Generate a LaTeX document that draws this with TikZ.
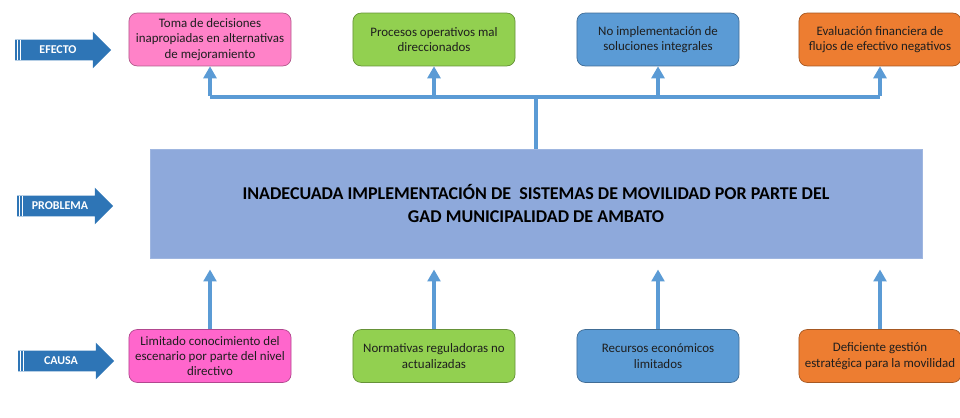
\documentclass[tikz,border=0pt]{standalone}
\usepackage{fontspec}
\setmainfont{Carlito}
\usepackage{tikz}
\usetikzlibrary{positioning,arrows.meta,calc,shapes.arrows}
\definecolor{efpink}{RGB}{255,130,200}
\definecolor{capink}{RGB}{255,102,204}
\definecolor{tgreen}{RGB}{146,208,80}
\definecolor{tblue}{RGB}{91,155,213}
\definecolor{torange}{RGB}{237,125,49}
\definecolor{probfill}{RGB}{142,169,219}
\definecolor{signblue}{RGB}{46,117,182}
\definecolor{linkblue}{RGB}{91,155,213}
\definecolor{boxtext}{RGB}{30,30,30}
\tikzset{
  cell/.style={rounded corners=0.2cm, line width=0.5pt, minimum width=4.05cm,
               minimum height=1.32cm, inner sep=2pt, align=center,
               font=\fontsize{9.2}{10.9}\selectfont, text=boxtext},
  probbox/.style={fill=probfill, draw=probfill!85!white, line width=0.5pt,
                  minimum width=19.3cm, minimum height=2.72cm, align=center,
                  font=\fontsize{12.8}{15.8}\selectfont\bfseries, text=black},
  sign/.style={single arrow, fill=signblue, draw=none, minimum height=2.4cm,
               minimum width=0.9cm, single arrow head extend=0.2cm,
               text height=5.6pt, text depth=0pt, inner ysep=4.3pt, inner xsep=0pt,
               font=\fontsize{8.5}{10}\selectfont\bfseries, text=white},
  link/.style={draw=linkblue, line width=2.4pt},
  flow/.style={-{Triangle[length=0.3cm,width=0.32cm]}, draw=linkblue, line width=2.4pt},
}

\begin{document}
\begin{tikzpicture}[x=0.025cm, y=-0.025cm]
% pixel grid of the sheet: x to the right, y downwards
\useasboundingbox (0,0) rectangle (960,418);
\def\ca{210} \def\cb{434} \def\cc{658} \def\cd{880}
\def\rtop{39.5} \def\rbot{356}

% row markers on the left
\node[sign] (efecto) at (58,50) {EFECTO};
\node[sign] (problema) at (60,206) {PROBLEMA};
\node[sign] (causa) at (61,361) {CAUSA};
\foreach \s in {efecto,problema,causa} {
  \draw[white, line width=0.5pt] ([xshift=0.06cm]\s.west) ++(0,-0.26cm) -- ++(0,0.52cm);
  \draw[white, line width=0.5pt] ([xshift=0.15cm]\s.west) ++(0,-0.26cm) -- ++(0,0.52cm);
}

% central problem
\node[probbox] (prob) at (536,203.5)
  {INADECUADA IMPLEMENTACIÓN DE \ SISTEMAS DE MOVILIDAD POR PARTE DEL\\
   GAD MUNICIPALIDAD DE AMBATO};

% effects, top row
\foreach \n/\cx/\c/\t in {efa/\ca/efpink/{Toma de decisiones\\inapropiadas en alternativas\\de mejoramiento},
                          efb/\cb/tgreen/{Procesos operativos mal\\direccionados},
                          efc/\cc/tblue/{No implementación de\\soluciones integrales},
                          efd/\cd/torange/{Evaluación financiera de\\flujos de efectivo negativos}}
  \node[cell, fill=\c, draw=\c!70!black] (\n) at (\cx,\rtop) {\t};

% causes, bottom row
\foreach \n/\cx/\c/\t in {caa/\ca/capink/{Limitado conocimiento del\\escenario por parte del nivel\\directivo},
                          cab/\cb/tgreen/{Normativas reguladoras no\\actualizadas},
                          cac/\cc/tblue/{Recursos económicos\\limitados},
                          cad/\cd/torange/{Deficiente gestión\\estratégica para la movilidad}}
  \node[cell, fill=\c, draw=\c!70!black] (\n) at (\cx,\rbot) {\t};

% problem feeds the effects through one bus
\coordinate (bus) at (536,97);
\draw[link] (prob.north) -- (bus);
\draw[link] (bus -| efa) -- (bus -| efd);
\foreach \n in {efa,efb,efc,efd}
  \draw[flow] ([yshift=1pt]bus -| \n) -- (\n.south);

% causes point up at the problem, stopping short of it
\foreach \n in {caa,cab,cac,cad}
  \draw[flow, shorten >=0.28cm] (\n.north) -- (\n.north |- prob.south);
\end{tikzpicture}
\end{document}
